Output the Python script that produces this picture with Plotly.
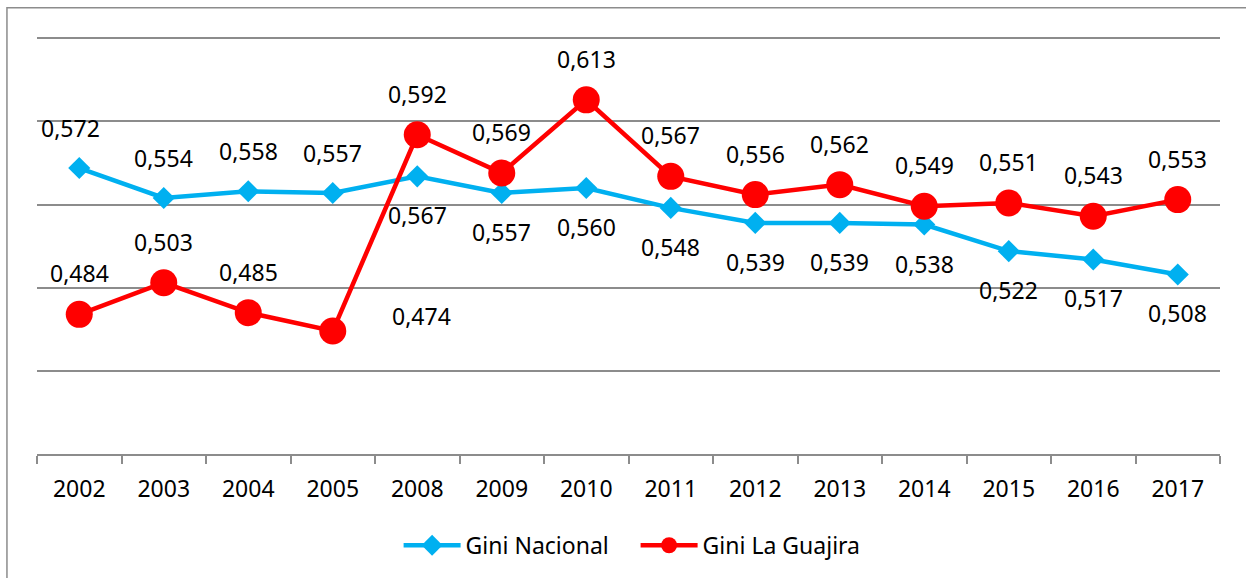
import plotly.graph_objects as go

years = ["2002", "2003", "2004", "2005", "2008", "2009", "2010",
         "2011", "2012", "2013", "2014", "2015", "2016", "2017"]
gini_nacional = [0.572, 0.554, 0.558, 0.557, 0.567, 0.557, 0.560,
                 0.548, 0.539, 0.539, 0.538, 0.522, 0.517, 0.508]
gini_guajira = [0.484, 0.503, 0.485, 0.474, 0.592, 0.569, 0.613,
                0.567, 0.556, 0.562, 0.549, 0.551, 0.543, 0.553]

# label placement (style only)
nac_pos = ["above"] * 4 + ["below"] * 10
gua_pos = ["above"] * 3 + ["right"] + ["above"] * 10

BLUE = "#00B0F0"
RED = "#FF0000"
GRAY = "#8C8C8C"
FONT = "Noto Sans"

fig = go.Figure()
fig.add_trace(go.Scatter(
    x=years, y=gini_nacional, name="Gini Nacional", mode="lines+markers",
    line=dict(color=BLUE, width=4.5),
    marker=dict(symbol="diamond", size=17, color=BLUE),
))
fig.add_trace(go.Scatter(
    x=years, y=gini_guajira, name="Gini La Guajira", mode="lines+markers",
    line=dict(color=RED, width=4.5),
    marker=dict(symbol="circle", size=27, color=RED),
))

def fmt(v):
    return f"{v:.3f}".replace(".", ",")

ann = []
for i, v in enumerate(gini_nacional):
    p = nac_pos[i]
    xs = -9 if i == 0 else 0
    ys = 40 if p == "above" else -39
    ann.append(dict(x=i, y=v, text=fmt(v), showarrow=False, xshift=xs, yshift=ys,
                    font=dict(family=FONT, size=23, color="black")))
for i, v in enumerate(gini_guajira):
    p = gua_pos[i]
    if p == "right":
        xs, ys = 89, 15
    else:
        xs, ys = 0, 41
    ann.append(dict(x=i, y=v, text=fmt(v), showarrow=False, xshift=xs, yshift=ys,
                    font=dict(family=FONT, size=23, color="black")))

# plot area: bottom at 455px, 0.25 units = 417px
fig.update_layout(
    width=1246, height=578,
    margin=dict(l=37, r=26, t=35, b=123),
    paper_bgcolor="white", plot_bgcolor="white",
    font=dict(family=FONT, size=20, color="black"),
    annotations=ann,
    showlegend=True,
    legend=dict(orientation="h", x=0.506, xanchor="center", y=-0.215, yanchor="middle",
                font=dict(family=FONT, size=23, color="black"),
                itemwidth=57, entrywidth=165, tracegroupgap=0),
    shapes=[dict(type="rect", xref="paper", yref="paper",
                 x0=-0.0254, x1=1.03, y0=-0.31, y1=1.065,
                 line=dict(color=GRAY, width=1.5), fillcolor="rgba(0,0,0,0)", layer="below")],
)
fig.update_xaxes(
    type="category", range=[-0.5, len(years) - 0.5],
    showline=True, linecolor=GRAY, linewidth=1.5,
    ticks="outside", ticklen=8, tickcolor=GRAY, tickwidth=1.5,
    tickson="boundaries", showgrid=False, ticklabelstandoff=14,
    tickfont=dict(family=FONT, size=23, color="black"),
)
fig.update_yaxes(
    range=[0.40, 0.652], dtick=0.05, tick0=0.40, showgrid=True, gridcolor=GRAY,
    gridwidth=1.5, showticklabels=False, zeroline=False, showline=False,
)

fig.write_html("out.html", config={"displayModeBar": False},
               post_script="document.body.style.margin='0';")
